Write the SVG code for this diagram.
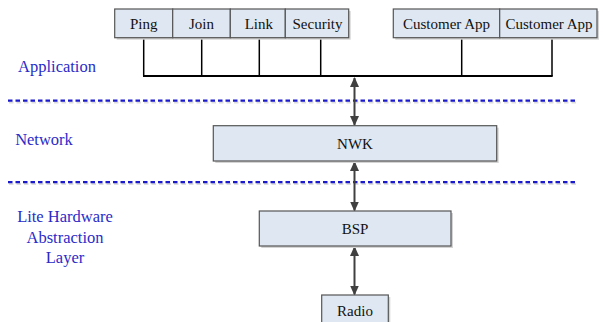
<svg xmlns="http://www.w3.org/2000/svg" width="603" height="322" viewBox="0 0 603 322">
<style>
.box{fill:#dfe8f2;stroke:#555;stroke-width:1.2}
.sh{fill:#d4d4d4}
text{font-family:'Liberation Serif','DejaVu Serif',serif}
.t{font-size:15px;fill:#111;text-anchor:middle}
.lbl{font-size:16.5px;fill:#2b2bc8;text-anchor:middle}
.dash{stroke:#1a1acc;stroke-width:2.2;stroke-dasharray:4.5 3;fill:none}
.dashsh{stroke:#dddddd;stroke-width:2.2;stroke-dasharray:4.5 3;fill:none}
.bus{stroke:#000;fill:none}
.arr{stroke:#404040;stroke-width:2;fill:none;marker-start:url(#ah);marker-end:url(#ah)}
</style>
<defs>
<marker id="ah" viewBox="0 0 10 10" refX="9" refY="5" markerWidth="10" markerHeight="10" markerUnits="userSpaceOnUse" orient="auto-start-reverse">
<path d="M0,0.5 L10,5 L0,9.5 Z" fill="#404040"/>
</marker>
</defs>
<rect width="603" height="322" fill="#fff"/>
<g id="separators">
<line class="dashsh" x1="9" y1="102.5" x2="579" y2="102.5"/>
<line class="dash" x1="8" y1="100.7" x2="578" y2="100.7"/>
<line class="dashsh" x1="9" y1="184" x2="579" y2="184"/>
<line class="dash" x1="8" y1="182.2" x2="578" y2="182.2"/>
</g>
<g id="layer-labels" font-family="Liberation Serif, serif">
<text class="lbl" x="57" y="72">Application</text>
<text class="lbl" x="44" y="144.5">Network</text>
<text class="lbl" x="65" y="222">Lite Hardware</text>
<text class="lbl" x="65" y="243">Abstraction</text>
<text class="lbl" x="65" y="263">Layer</text>
</g>
<g id="connectors">
<polyline class="bus" stroke-width="1.5" points="143.7,37.7 143.7,76"/>
<polyline class="bus" stroke-width="1.5" points="201.7,37.7 201.7,76"/>
<polyline class="bus" stroke-width="1.5" points="259.3,37.7 259.3,76"/>
<polyline class="bus" stroke-width="1.5" points="320.7,37.7 320.7,76"/>
<polyline class="bus" stroke-width="1.5" points="461.7,37.7 461.7,76"/>
<polyline class="bus" stroke-width="1.5" points="552,37.7 552,76"/>
<line class="bus" stroke-width="2.2" x1="143" y1="76" x2="552.7" y2="76"/>
<line class="arr" x1="354.5" y1="78" x2="354.5" y2="125"/>
<line class="arr" x1="354.5" y1="162" x2="354.5" y2="210.5"/>
<line class="arr" x1="354.5" y1="247" x2="354.5" y2="294.5"/>
</g>
<g id="node-ping">
<rect class="sh" x="116.7" y="11" width="58" height="28.7"/>
<rect class="box" x="114.7" y="9" width="58" height="28.7"/>
<text class="t" x="143.7" y="28.5">Ping</text>
</g>
<g id="node-join">
<rect class="sh" x="174.7" y="11" width="57.6" height="28.7"/>
<rect class="box" x="172.7" y="9" width="57.6" height="28.7"/>
<text class="t" x="201.5" y="28.5">Join</text>
</g>
<g id="node-link">
<rect class="sh" x="232.3" y="11" width="55" height="28.7"/>
<rect class="box" x="230.3" y="9" width="55" height="28.7"/>
<text class="t" x="258.8" y="28.5">Link</text>
</g>
<g id="node-security">
<rect class="sh" x="287.3" y="11" width="63.4" height="28.7"/>
<rect class="box" x="285.3" y="9" width="63.4" height="28.7"/>
<text class="t" x="317.5" y="28.5">Security</text>
</g>
<g id="node-customer-app-1">
<rect class="sh" x="395.3" y="11" width="106.4" height="28.7"/>
<rect class="box" x="393.3" y="9" width="106.4" height="28.7"/>
<text class="t" x="446.5" y="28.5">Customer App</text>
</g>
<g id="node-customer-app-2">
<rect class="sh" x="501.7" y="11" width="97.3" height="28.7"/>
<rect class="box" x="499.7" y="9" width="97.3" height="28.7"/>
<text class="t" x="549" y="28.5">Customer App</text>
</g>
<g id="node-nwk">
<rect class="sh" x="215.3" y="127.7" width="283.4" height="35.3"/>
<rect class="box" x="213.3" y="125.7" width="283.4" height="35.3"/>
<text class="t" x="355" y="148.5">NWK</text>
</g>
<g id="node-bsp">
<rect class="sh" x="261.3" y="213" width="191.7" height="35"/>
<rect class="box" x="259.3" y="211" width="191.7" height="35"/>
<text class="t" x="355" y="233.5">BSP</text>
</g>
<g id="node-radio">
<rect class="sh" x="323.7" y="297" width="66.6" height="30"/>
<rect class="box" x="321.7" y="295" width="66.6" height="30"/>
<text class="t" x="355" y="315.5">Radio</text>
</g>
</svg>
